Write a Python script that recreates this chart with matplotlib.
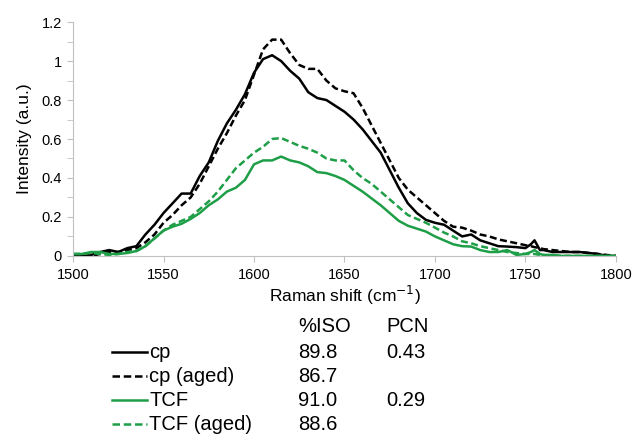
import numpy as np
import matplotlib.pyplot as plt
from matplotlib.lines import Line2D
from matplotlib.ticker import MultipleLocator

plt.rcParams['font.family'] = ['Liberation Sans', 'DejaVu Sans']

# Raman shift (cm-1) and intensities
shift = [1500, 1505, 1510, 1515, 1520, 1525, 1530, 1535, 1540, 1545, 1550, 1555, 1560,
         1565, 1570, 1575, 1580, 1585, 1590, 1595, 1600, 1605, 1610, 1615, 1620, 1625,
         1630, 1635, 1640, 1645, 1650, 1655, 1660, 1665, 1670, 1675, 1680, 1685, 1690,
         1695, 1700, 1705, 1710, 1715, 1720, 1725, 1730, 1735, 1740, 1745, 1750, 1753,
         1755, 1758, 1760, 1765, 1770, 1775, 1780, 1785, 1790, 1795, 1800]

cp = [0.005, 0.00, 0.005, 0.02, 0.03, 0.02, 0.04, 0.05, 0.11, 0.16, 0.22, 0.27, 0.32,
      0.32, 0.41, 0.48, 0.59, 0.68, 0.75, 0.83, 0.94, 1.01, 1.03, 1.00, 0.95, 0.91,
      0.84, 0.81, 0.80, 0.77, 0.74, 0.70, 0.65, 0.59, 0.53, 0.44, 0.35, 0.27, 0.22,
      0.185, 0.17, 0.16, 0.13, 0.10, 0.11, 0.08, 0.065, 0.05, 0.048, 0.045, 0.04, 0.06,
      0.08, 0.03, 0.03, 0.02, 0.02, 0.02, 0.02, 0.015, 0.01, 0.00, 0.00]

cp_aged = [0.00, 0.00, 0.00, 0.01, 0.02, 0.02, 0.03, 0.04, 0.07, 0.11, 0.17, 0.21, 0.26,
           0.30, 0.37, 0.46, 0.55, 0.63, 0.72, 0.80, 0.93, 1.06, 1.11, 1.11, 1.04, 0.98,
           0.96, 0.96, 0.90, 0.86, 0.845, 0.835, 0.76, 0.67, 0.58, 0.49, 0.40, 0.34, 0.30,
           0.26, 0.22, 0.18, 0.15, 0.145, 0.13, 0.11, 0.10, 0.085, 0.075, 0.065, 0.055, 0.05,
           0.045, 0.04, 0.035, 0.03, 0.025, 0.02, 0.02, 0.015, 0.01, 0.005, 0.00]

tcf = [0.01, 0.01, 0.02, 0.02, 0.01, 0.01, 0.015, 0.025, 0.05, 0.09, 0.13, 0.15, 0.165,
       0.19, 0.22, 0.26, 0.29, 0.33, 0.35, 0.39, 0.47, 0.49, 0.49, 0.51, 0.49, 0.48,
       0.46, 0.43, 0.425, 0.41, 0.39, 0.36, 0.33, 0.295, 0.26, 0.22, 0.18, 0.155, 0.14,
       0.125, 0.10, 0.08, 0.06, 0.05, 0.048, 0.03, 0.02, 0.02, 0.03, 0.005, 0.01, 0.02,
       0.03, 0.01, 0.005, 0.005, 0.00, 0.00, 0.00, 0.00, 0.00, 0.00, 0.00]

tcf_aged = [0.01, 0.01, 0.015, 0.01, 0.005, 0.01, 0.02, 0.025, 0.05, 0.09, 0.13, 0.16, 0.18,
            0.20, 0.24, 0.28, 0.33, 0.39, 0.45, 0.49, 0.53, 0.56, 0.60, 0.605, 0.585, 0.565,
            0.55, 0.53, 0.50, 0.49, 0.49, 0.44, 0.40, 0.37, 0.33, 0.29, 0.25, 0.21, 0.19,
            0.17, 0.145, 0.12, 0.10, 0.075, 0.065, 0.05, 0.04, 0.03, 0.02, 0.015, 0.01, 0.01,
            0.01, 0.005, 0.005, 0.00, 0.00, 0.00, 0.00, 0.00, 0.00, 0.00, 0.00]

labels = ["cp", "cp (aged)", "TCF", "TCF (aged)"]
iso = ["89.8", "86.7", "91.0", "88.6"]
pcn = ["0.43", "", "0.29", ""]

black = "#000000"
green = "#1f9e48"
styles = [(black, "-"), (black, "--"), (green, "-"), (green, "--")]
series = [cp, cp_aged, tcf, tcf_aged]

fig = plt.figure(figsize=(6.35, 4.42), dpi=100)
ax = fig.add_axes([0.115, 0.421, 0.855, 0.529])

for y, (c, ls) in zip(series, styles):
    line, = ax.plot(shift, y, color=c, linestyle=ls, linewidth=1.8)
    if ls == "--":
        line.set_dashes((2.8, 1.4))

ax.set_xlim(1500, 1800)
ax.set_ylim(0, 1.2)
ax.xaxis.set_major_locator(MultipleLocator(50))
ax.yaxis.set_major_locator(MultipleLocator(0.2))
ax.yaxis.set_minor_locator(MultipleLocator(0.1))
ax.yaxis.set_major_formatter(plt.FuncFormatter(lambda v, p: f"{v:g}"))

for s in ["top", "right"]:
    ax.spines[s].set_visible(False)
for s in ["left", "bottom"]:
    ax.spines[s].set_color("#c0c0c0")
ax.tick_params(axis="x", length=4, color="#c0c0c0", labelsize=10.5, pad=5)
ax.tick_params(axis="y", which="both", length=4, color="#c0c0c0", labelsize=10.5, pad=4)

ax.set_xlabel("Raman shift (cm$^{-1}$)", fontsize=12.5, labelpad=1)
ax.set_ylabel("Intensity (a.u.)", fontsize=12.5, labelpad=7)

# table under the plot
fs = 14.5
H = 442.0
fig.text(298 / 635, 1 - 326 / H, "%ISO", fontsize=fs, va="center")
fig.text(386 / 635, 1 - 326 / H, "PCN", fontsize=fs, va="center")
row_y = [352, 376, 400, 424]
for i, (lab, a, b) in enumerate(zip(labels, iso, pcn)):
    yy = 1 - row_y[i] / H
    c, ls = styles[i]
    fig.add_artist(Line2D([112 / 635, 147 / 635], [yy, yy], color=c, linestyle=ls,
                          linewidth=1.8, dashes=(3.0, 1.5) if ls == "--" else (None, None)))
    fig.text(149 / 635, yy, lab, fontsize=fs, va="center")
    fig.text(298 / 635, yy, a, fontsize=fs, va="center")
    if b:
        fig.text(386 / 635, yy, b, fontsize=fs, va="center")

fig.savefig("out.png", dpi=100)
